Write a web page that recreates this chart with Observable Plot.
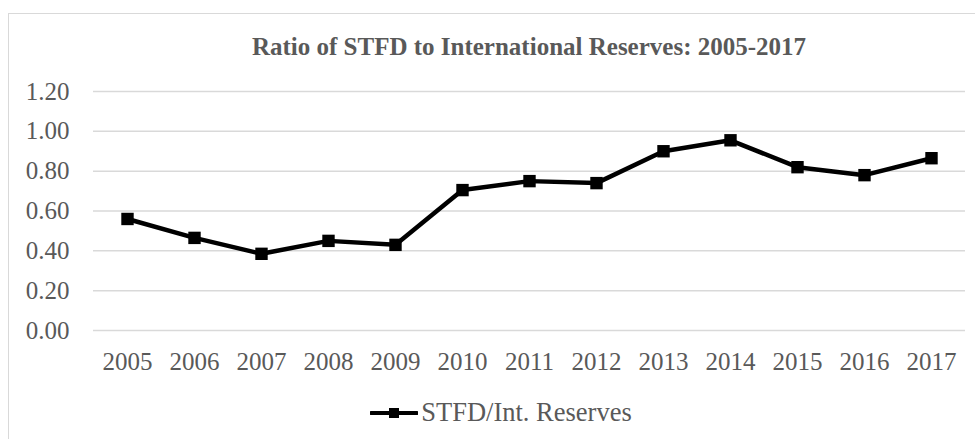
<!DOCTYPE html>
<html>
<head>
<meta charset="utf-8">
<script src="https://cdn.jsdelivr.net/npm/d3@7"></script>
<script src="https://cdn.jsdelivr.net/npm/@observablehq/plot@0.6"></script>
<style>
  html, body { margin: 0; padding: 0; background: #fff; }
  #wrap { position: relative; width: 975px; height: 439px; overflow: hidden; font-family: "Liberation Serif", "Times New Roman", serif; }
  #frame { position: absolute; left: 8px; top: 13px; width: 980px; height: 440px; border: 1.5px solid #d9d9d9; box-sizing: border-box; }
  #title { position: absolute; left: 93px; width: 872px; top: 33px; text-align: center; font-weight: bold; font-size: 25px; color: #595959; white-space: nowrap; }
  #chart { position: absolute; left: 0; top: 0; }
  #legend { position: absolute; top: 397px; left: 27px; width: 948px; display: flex; justify-content: center; align-items: center; font-size: 26.5px; color: #595959; }
  #legend svg { margin-right: 3px; }
</style>
</head>
<body>
<div id="wrap">
  <div id="frame"></div>
  <div id="chart"></div>
  <div id="title">Ratio of STFD to International Reserves: 2005-2017</div>
  <div id="legend"></div>
</div>
<script>
// Short-term foreign debt relative to international reserves, by year
const years = ["2005", "2006", "2007", "2008", "2009", "2010", "2011", "2012", "2013", "2014", "2015", "2016", "2017"];
const ratio = [0.56, 0.465, 0.385, 0.45, 0.43, 0.705, 0.75, 0.74, 0.90, 0.955, 0.82, 0.78, 0.865];
const yTicks = [0, 0.2, 0.4, 0.6, 0.8, 1.0, 1.2];
const seriesName = "STFD/Int. Reserves";

const data = years.map((year, i) => ({year, value: ratio[i]}));

const chart = Plot.plot({
  width: 975,
  height: 380,
  marginTop: 91,
  marginBottom: 50,
  marginLeft: 93,
  marginRight: 10,
  style: {fontFamily: "'Liberation Serif', 'Times New Roman', serif", fontSize: "25px", color: "#595959", background: "transparent"},
  x: {type: "point", domain: years, padding: 0.5},
  y: {domain: [0, 1.2]},
  marks: [
    Plot.ruleY(yTicks, {stroke: "#d9d9d9", strokeWidth: 1.5, strokeOpacity: 1}),
    Plot.axisY(yTicks, {tickSize: 0, tickPadding: 24, tickFormat: d3.format(".2f"), label: null, fill: "#595959", fontSize: 25}),
    Plot.axisX({tickSize: 0, tickPadding: 22, label: null, fill: "#595959", fontSize: 25}),
    Plot.line(data, {x: "year", y: "value", stroke: "#000", strokeWidth: 4.5, strokeLinejoin: "round"}),
    Plot.dot(data, {x: "year", y: "value", symbol: "square", r: 7, fill: "#000", stroke: "none"})
  ]
});
document.getElementById("chart").append(chart);

// Legend: line with square marker followed by series name
const legend = document.getElementById("legend");
const sw = d3.create("svg").attr("width", 48).attr("height", 14);
sw.append("line").attr("x1", 1).attr("x2", 47).attr("y1", 7).attr("y2", 7).attr("stroke", "#000").attr("stroke-width", 4).attr("stroke-linecap", "round");
sw.append("rect").attr("x", 19).attr("y", 2).attr("width", 10).attr("height", 10).attr("fill", "#000");
legend.append(sw.node());
const lbl = document.createElement("span");
lbl.textContent = seriesName;
legend.append(lbl);
</script>
</body>
</html>
